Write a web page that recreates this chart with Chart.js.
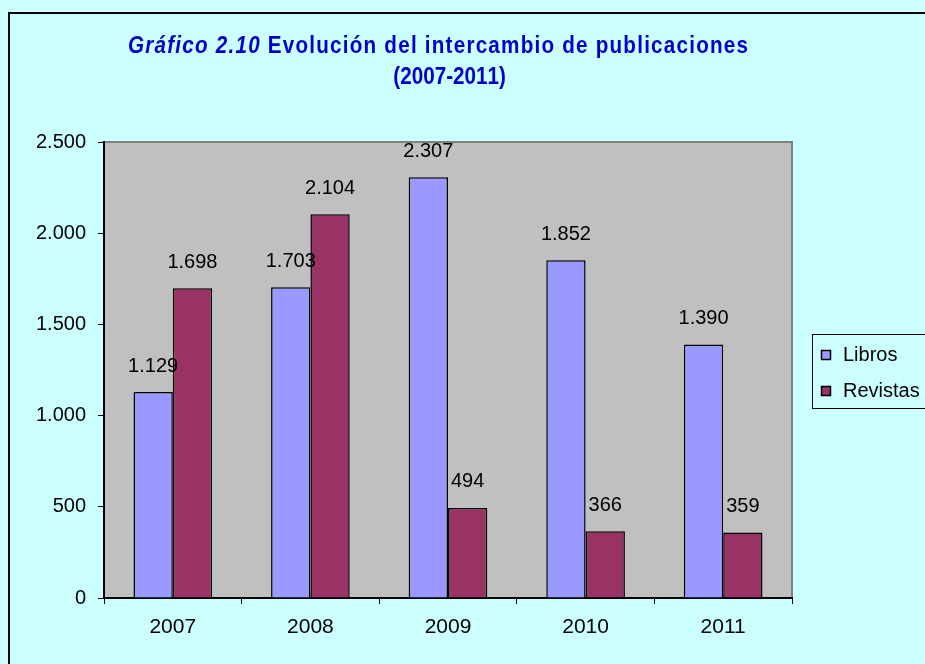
<!DOCTYPE html>
<html><head><meta charset="utf-8">
<script src="https://cdn.jsdelivr.net/npm/chart.js@4/dist/chart.umd.min.js"></script>
<style>html,body{margin:0;padding:0;background:#CCFFFF;overflow:hidden}canvas{display:block}</style>
</head><body><canvas id="c" width="925" height="664"></canvas>
<script>
const categories = ['2007', '2008', '2009', '2010', '2011'];
const libros = [1129, 1703, 2307, 1852, 1390];
const revistas = [1698, 2104, 494, 366, 359];
const seriesNames = ['Libros', 'Revistas'];
const yTickValues = [0, 500, 1000, 1500, 2000, 2500];
const titleItalic = 'Gráfico 2.10';
const titleRest = ' Evolución del intercambio de publicaciones';
const titleLine2 = '(2007-2011)';

const FONT = "'Liberation Sans', Arial, sans-serif";
const colors = ['#9999FF', '#993366'];

function fmt(v) {
  v = Math.round(v);
  if (v >= 1000) return Math.floor(v / 1000) + '.' + String(v % 1000).padStart(3, '0');
  return String(v);
}

function drawLine(ctx, parts, x0, y, sx, target) {
  let W = 0, n = 0;
  parts.forEach(p => { ctx.font = p.font; W += ctx.measureText(p.text).width; n += [...p.text].length; });
  const sp = target ? Math.max(0, (target - W * sx) / (n - 1)) : 0;
  const total = target || W * sx;
  ctx.save();
  ctx.translate(x0, y);
  ctx.scale(sx, 1);
  let x = 0;
  parts.forEach(p => {
    ctx.font = p.font;
    for (const ch of p.text) { ctx.fillText(ch, x, 0); x += ctx.measureText(ch).width + sp / sx; }
  });
  ctx.restore();
  return total;
}

const framePlugin = {
  id: 'frame',
  beforeDraw(chart) {
    const ctx = chart.ctx, a = chart.chartArea;
    ctx.save();
    ctx.fillStyle = '#CCFFFF';
    ctx.fillRect(0, 0, chart.width, chart.height);
    ctx.strokeStyle = '#000';
    ctx.lineWidth = 2;
    ctx.strokeRect(9, 13, chart.width + 20, chart.height + 20);
    ctx.fillStyle = '#C0C0C0';
    ctx.fillRect(a.left, a.top, a.right - a.left, a.bottom - a.top);
    ctx.strokeStyle = '#808080';
    ctx.lineWidth = 2;
    ctx.beginPath();
    ctx.moveTo(a.left, a.top);
    ctx.lineTo(a.right, a.top);
    ctx.lineTo(a.right, a.bottom);
    ctx.stroke();
    ctx.restore();
  },
  afterDatasetsDraw(chart) {
    const ctx = chart.ctx;
    ctx.save();
    ctx.font = '20px ' + FONT;
    ctx.fillStyle = '#000';
    ctx.textAlign = 'center';
    ctx.textBaseline = 'middle';
    chart.data.datasets.forEach((ds, i) => {
      const meta = chart.getDatasetMeta(i);
      meta.data.forEach((el, j) => {
        ctx.fillText(fmt(ds.data[j]), el.x, el.y - 26);
      });
    });
    ctx.restore();
  },
  afterDraw(chart) {
    const ctx = chart.ctx;
    ctx.save();
    // Title
    ctx.fillStyle = '#0000CC';
    ctx.textBaseline = 'middle';
    ctx.textAlign = 'left';
    const sx = 0.86;
    const fItal = 'italic bold 24px ' + FONT;
    const fBold = 'bold 24px ' + FONT;
    drawLine(ctx, [{ text: titleItalic, font: fItal }, { text: titleRest, font: fBold }], 128, 46, sx, 620);
    ctx.font = fBold;
    const w2 = ctx.measureText(titleLine2).width * sx;
    drawLine(ctx, [{ text: titleLine2, font: fBold }], 449 - w2 / 2, 77, sx, 0);
    // Legend
    ctx.strokeStyle = '#000';
    ctx.lineWidth = 1;
    ctx.strokeRect(812.5, 334.5, 130, 74);
    ctx.font = '20px ' + FONT;
    ctx.textAlign = 'left';
    const ys = [355, 391];
    chart.data.datasets.forEach((ds, i) => {
      ctx.fillStyle = ds.backgroundColor;
      ctx.fillRect(821, ys[i] - 5, 10, 10);
      ctx.strokeStyle = '#000';
      ctx.lineWidth = 1.5;
      ctx.strokeRect(821.5, ys[i] - 4.5, 9, 9);
      ctx.fillStyle = '#000';
      ctx.fillText(ds.label, 843, ys[i]);
    });
    ctx.restore();
  }
};

new Chart(document.getElementById('c'), {
  type: 'bar',
  data: {
    labels: categories,
    datasets: [
      { label: seriesNames[0], data: libros, backgroundColor: colors[0], borderColor: '#000', borderWidth: 1.5 },
      { label: seriesNames[1], data: revistas, backgroundColor: colors[1], borderColor: '#000', borderWidth: 1.5 }
    ]
  },
  options: {
    responsive: false,
    animation: false,
    layout: { padding: { left: 0, top: 142, right: 133, bottom: 0 } },
    datasets: { bar: { categoryPercentage: 2 / 3.5, barPercentage: 1 } },
    plugins: { legend: { display: false }, title: { display: false }, tooltip: { enabled: false } },
    scales: {
      x: {
        afterFit(s) { s.height = 66; },
        grid: { offset: true, drawOnChartArea: false, drawTicks: true, tickLength: 6, color: '#000', lineWidth: 1 },
        border: { display: true, color: '#000', width: 2 },
        ticks: { font: { size: 21, family: FONT }, color: '#000', padding: 11 }
      },
      y: {
        min: 0, max: 2500,
        afterFit(s) { s.width = 104; },
        afterBuildTicks(s) { s.ticks = yTickValues.map(v => ({ value: v })); },
        grid: { drawOnChartArea: false, drawTicks: true, tickLength: 6, color: '#000', lineWidth: 1 },
        border: { display: true, color: '#000', width: 2 },
        ticks: { font: { size: 20, family: FONT }, color: '#000', padding: 12, callback: v => fmt(v) }
      }
    }
  },
  plugins: [framePlugin]
});
</script>
</body></html>
